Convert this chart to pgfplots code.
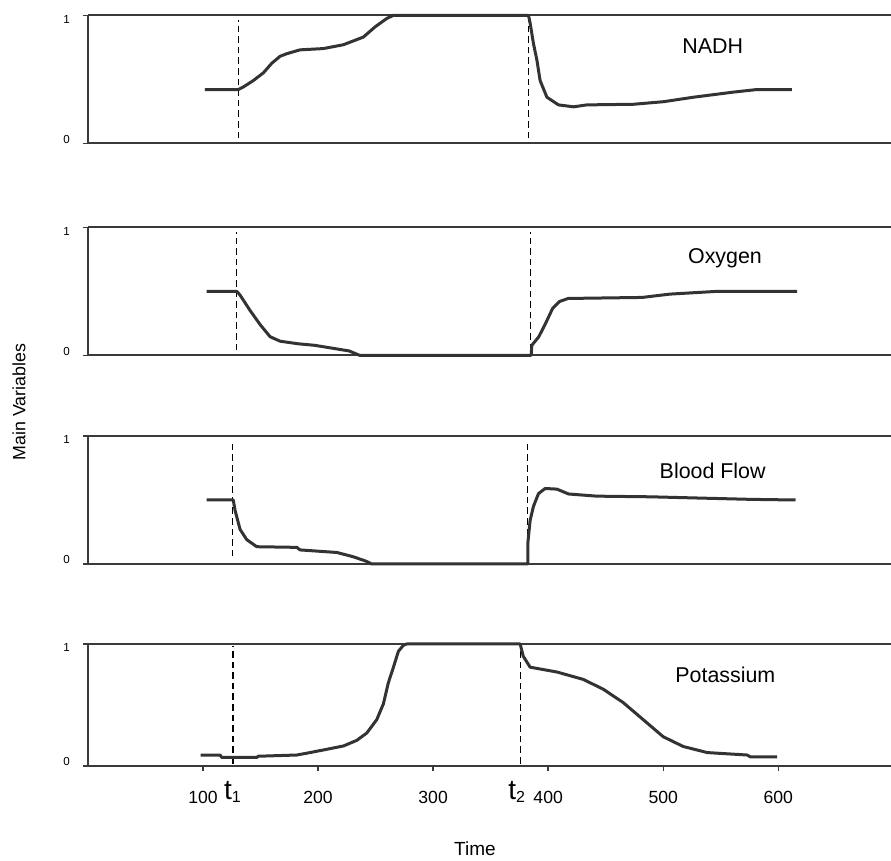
\documentclass[border=0pt]{standalone}
\usepackage{fontspec}
\setmainfont{Liberation Sans}
\usepackage{pgfplots}
\pgfplotsset{compat=1.18}
\definecolor{curvec}{HTML}{333333}
\definecolor{axln}{HTML}{3A3A3A}
\pgfplotsset{
 panel/.style={
   scale only axis, width=401.5pt, height=64pt,
   xmin=0, xmax=698, ymin=0, ymax=1,
   axis x line=bottom, axis y line=left,
   axis line style={-, line width=0.9pt, draw=axln},
   ytick={0,1},
   yticklabels={\raisebox{0pt}[0pt][0pt]{0}\hspace{1pt},\raisebox{-4pt}[0pt][0pt]{1}\hspace{-1pt}},
   xtick=\empty,
   tick align=outside, major tick length=2.5pt,
   tick style={line width=0.7pt, draw=axln},
   yticklabel style={font=\fontsize{5.8}{6}\selectfont, xshift=-3pt},
   /pgf/number format/assume math mode=true,
   clip=false,
   anchor=north west,
 },
 curve/.style={line width=1.5pt, color=curvec, line join=round, mark=none},
 tline/.style={dash pattern=on 3.3pt off 2pt, line width=0.7pt, black, mark=none},
}
\tikzset{lab/.style={font=\fontsize{10.7}{12}\selectfont}}
\newcommand{\topline}{\draw[line width=0.9pt, axln] (rel axis cs:0,1) -- (rel axis cs:1,1);}
\begin{document}
\begin{tikzpicture}
\useasboundingbox (0,0) rectangle (445.5pt,-430.5pt);

% NADH
\begin{axis}[panel, at={(44pt,-7.65pt)}]
\topline
\addplot[tline] coordinates {(130.7,0.04) (130.7,0.96)};
\addplot[tline] coordinates {(383,0.04) (383,0.96)};
\addplot[curve] coordinates {(101.7,0.42)(130.7,0.42)(135,0.44)(143.7,0.49)(152.4,0.55)(159.7,0.625)(167,0.68)(172.8,0.70)(184.3,0.73)(204.6,0.74)(222,0.77)(239.4,0.83)(249.6,0.91)(259.7,0.975)(265.5,1.0)(382.9,1.0)(384.3,0.94)(387.2,0.78)(390.2,0.65)(393,0.49)(398.9,0.36)(409,0.30)(422,0.285)(433.6,0.30)(474.2,0.305)(500.3,0.325)(526.3,0.36)(561.1,0.40)(581.5,0.42)(611.9,0.42)};
\node[lab] at (axis cs:543,0.76) {NADH};
\end{axis}

% Oxygen
\begin{axis}[panel, at={(44pt,-113.65pt)}]
\topline
\addplot[tline] coordinates {(129.3,0.04) (129.3,0.96)};
\addplot[tline] coordinates {(384.5,0.04) (384.5,0.96)};
\addplot[curve] coordinates {(103.2,0.50)(129.3,0.50)(132.2,0.47)(140.9,0.35)(149.6,0.24)(158.3,0.145)(167,0.11)(182.6,0.09)(197,0.078)(227,0.034)(236,0)(385.2,0)(385.8,0.078)(391.8,0.144)(397.8,0.25)(403.8,0.365)(409.8,0.42)(417.4,0.444)(481.7,0.452)(505.8,0.478)(547.8,0.50)(616.5,0.50)};
\node[lab] at (axis cs:553.7,0.757) {Oxygen};
\end{axis}

% Blood Flow
\begin{axis}[panel, at={(44pt,-218pt)}]
\topline
\addplot[tline] coordinates {(125.7,0.06) (125.7,0.97)};
\addplot[tline] coordinates {(381.8,0.06) (381.8,0.97)};
\addplot[curve] coordinates {(103.2,0.50)(126.3,0.50)(127.8,0.42)(132.2,0.27)(138,0.19)(146.7,0.135)(181.5,0.13)(184.3,0.11)(216.3,0.09)(230.4,0.057)(242.3,0.02)(246.7,0)(382.3,0)(382.3,0.16)(384.3,0.34)(387.2,0.45)(391.6,0.55)(397.4,0.59)(407.6,0.585)(417.7,0.547)(442.3,0.53)(488.7,0.525)(532,0.515)(576,0.505)(615,0.50)};
\node[lab] at (axis cs:543,0.73) {Blood Flow};
\end{axis}

% Potassium
\begin{axis}[panel, at={(44pt,-322pt)}, height=61pt,
  xtick={100,200,300,400,500,600},
  xticklabel style={font=\fontsize{8.8}{10}\selectfont, yshift=-6.5pt}]
\topline
\addplot[tline] coordinates {(125.9,0.02) (125.9,0.98)};
\addplot[tline] coordinates {(375.7,0.02) (375.7,0.98)};
\addplot[curve] coordinates {(98,0.09)(114.8,0.09)(116.3,0.07)(146.7,0.07)(148,0.08)(181.5,0.09)(193,0.11)(207.6,0.137)(222,0.164)(233.6,0.21)(242.3,0.27)(251,0.38)(256.8,0.51)(261,0.68)(265.5,0.81)(269.8,0.94)(274.2,0.99)(277,1.0)(375.7,1.0)(378.3,0.90)(384.3,0.81)(407.8,0.77)(430.4,0.71)(447.8,0.63)(465.2,0.52)(482.6,0.38)(500,0.24)(517.4,0.16)(538.3,0.11)(573,0.09)(575.7,0.075)(599,0.075)};
\node[lab] at (axis cs:554,0.75) {Potassium};
\node[anchor=base, inner sep=0pt, yshift=-17pt] at (axis cs:125.5,0) {\fontsize{14}{14}\selectfont t\raisebox{-1.5pt}{\fontsize{8}{8}\selectfont 1}};
\node[anchor=base, inner sep=0pt, yshift=-17pt] at (axis cs:372.6,0) {\fontsize{14}{14}\selectfont t\raisebox{-1.5pt}{\fontsize{8}{8}\selectfont 2}};
\end{axis}

\node[font=\fontsize{9.5}{11}\selectfont] at (237.5pt,-424.5pt) {Time};
\node[font=\fontsize{8.9}{10}\selectfont, rotate=90] at (9.5pt,-201pt) {Main Variables};
\end{tikzpicture}
\end{document}
